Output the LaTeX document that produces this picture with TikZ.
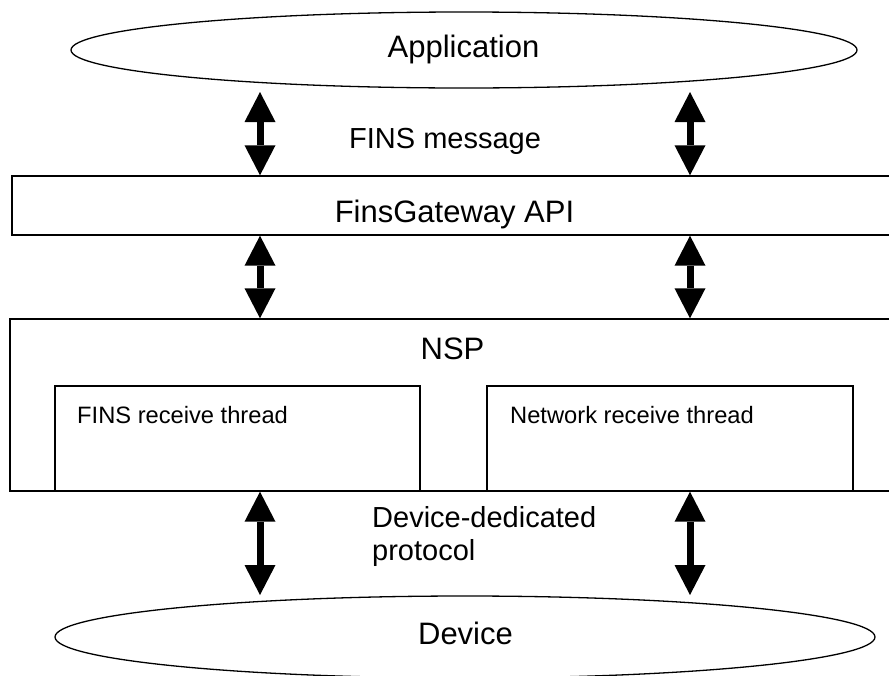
\documentclass[tikz,border=0pt]{standalone}
\usepackage{fontspec}
\setmainfont{Liberation Sans}
\usetikzlibrary{arrows.meta, positioning, shapes.geometric}

\tikzset{
  layer/.style={draw, line width=1.4pt, inner sep=0pt},
  oval/.style={ellipse, draw, line width=1.3pt, inner sep=0pt},
  biarrow/.style={line width=7pt,
    {Triangle[width=31pt,length=30pt,line width=0pt]}-{Triangle[width=31pt,length=30pt,line width=0pt]}},
  big/.style={inner sep=0pt, font=\fontsize{31}{37}\selectfont},
  mid/.style={inner sep=0pt, font=\fontsize{29}{33}\selectfont},
  small/.style={inner sep=0pt, font=\fontsize{23.7}{28}\selectfont}
}

\begin{document}
\begin{tikzpicture}[x=1pt, y=-1pt]
  \useasboundingbox (0,0) rectangle (889,675);

  % layers
  \node[oval, minimum width=786pt, minimum height=76pt] (app) at (464,50) {};
  \node[layer, minimum width=888pt, minimum height=59pt] (gw) at (456,205.5) {};
  \node[layer, minimum width=890pt, minimum height=172pt] (nsp) at (455,405) {};
  \node[layer, minimum width=365pt, minimum height=105pt] (fins) at (237.5,438.5) {};
  \node[layer, minimum width=366pt, minimum height=105pt] (net) at (670,438.5) {};
  \node[oval, minimum width=820pt, minimum height=82pt] (dev) at (465,637) {};

  % texts
  \node[big, anchor=base] (appl) at (463.5,57) {Application};
  \node[mid, anchor=base west] (msg) at (349,148) {FINS message};
  \node[big, anchor=base] (gwl) at (454.5,222) {FinsGateway API};
  \node[big, anchor=base] (nspl) at (452.5,359) {NSP};
  \node[small, anchor=base west] (finsl) at (77,423) {FINS receive thread};
  \node[small, anchor=base west] (netl) at (510,423) {Network receive thread};
  \node[mid, align=left, anchor=west] (proto) at (372,536.5) {Device-dedicated\\protocol};
  \node[big, anchor=base] (devl) at (465.5,644) {Device};

  % arrows
  \coordinate (t1) at (260,92);
  \coordinate (t2) at (690,92);
  \coordinate (b1) at (260,595);
  \coordinate (b2) at (690,595);

  \draw (t1) edge[biarrow] (t1 |- gw.north)
        (t2) edge[biarrow] (t2 |- gw.north)
        (t1 |- gw.south) edge[biarrow] (t1 |- nsp.north)
        (t2 |- gw.south) edge[biarrow] (t2 |- nsp.north)
        (t1 |- nsp.south) edge[biarrow] (b1)
        (t2 |- nsp.south) edge[biarrow] (b2);
\end{tikzpicture}
\end{document}
